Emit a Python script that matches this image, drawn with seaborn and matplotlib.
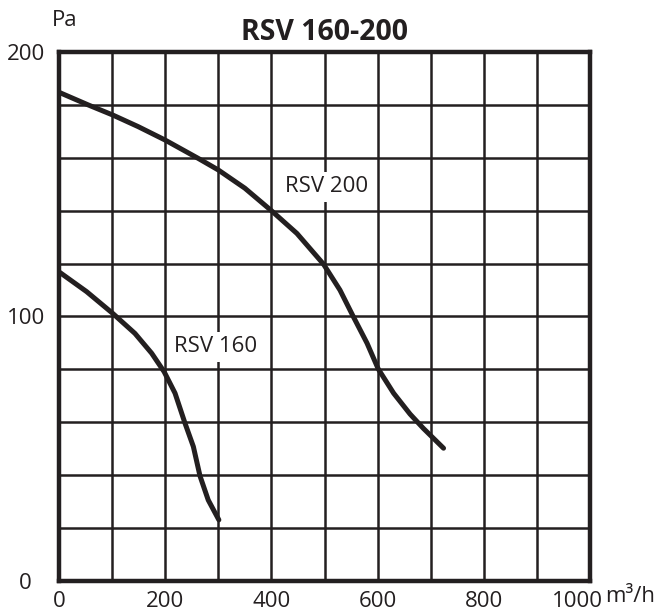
import numpy as np
import pandas as pd
import seaborn as sns
import matplotlib.pyplot as plt
from matplotlib.transforms import ScaledTranslation

# fan curves (airflow m3/h, pressure Pa)
rsv200_q = [2, 55, 101, 149, 200, 262, 300, 350, 400, 448, 498, 529, 554, 580, 601, 630, 661, 686, 724]
rsv200_p = [184.6, 180, 176.2, 171.8, 166.7, 159.8, 155.4, 148.5, 140, 131.4, 119.8, 110, 100, 89.9, 80.2, 71, 63.1, 57.7, 50.2]
rsv160_q = [2, 52, 101, 143, 174.5, 198, 218.5, 237, 253, 265.5, 281, 301]
rsv160_p = [116.6, 109.4, 101.2, 93.6, 86.1, 79.1, 71, 59.8, 50.8, 39.7, 30.6, 23.1]

x_ticks = list(range(0, 1001, 100))
x_labels = ["0", "", "200", "", "400", "", "600", "", "800", "", "1000"]
y_ticks = list(range(0, 201, 20))
y_labels = ["0", "", "", "", "", "100", "", "", "", "", "200"]

df = pd.concat([
    pd.DataFrame({"q": rsv200_q, "p": rsv200_p, "model": "RSV 200"}),
    pd.DataFrame({"q": rsv160_q, "p": rsv160_p, "model": "RSV 160"}),
])

sns.set_style("white")
plt.rcParams["font.family"] = ["Open Sans", "DejaVu Sans"]
ink = "#231f20"

fig = plt.figure(figsize=(6.59, 6.12), dpi=100)
ax = fig.add_axes([0.0895, 0.0507, 0.806, 0.8643])

sns.lineplot(data=df, x="q", y="p", units="model", estimator=None, sort=False,
             color=ink, linewidth=3.6, ax=ax, legend=False, zorder=3)

ax.set_xlim(0, 1000)
ax.set_ylim(0, 200)
ax.set_xticks(x_ticks)
ax.set_xticklabels(x_labels)
ax.set_yticks(y_ticks)
ax.set_yticklabels(y_labels, ha="center")
ax.tick_params(length=0, labelsize=16, colors=ink)
ax.tick_params(axis="x", pad=7)
ax.tick_params(axis="y", pad=24)
ax.grid(True, color=ink, linewidth=1.8)
for s in ax.spines.values():
    s.set_linewidth(3.2)
    s.set_color(ink)
ax.set_xlabel("")
ax.set_ylabel("")

# the "1000" label sits a little left of its tick
last = ax.get_xticklabels()[-1]
last.set_transform(last.get_transform() + ScaledTranslation(-9 / 72, 0, fig.dpi_scale_trans))

box = dict(boxstyle="square,pad=0.2", facecolor="white", edgecolor="none")
ax.text(504, 149, "RSV 200", ha="center", va="center", fontsize=16,
        color=ink, bbox=box, zorder=4)
ax.text(295, 88.6, "RSV 160", ha="center", va="center", fontsize=16,
        color=ink, bbox=box, zorder=4)

ax.set_title("RSV 160-200", fontsize=20.5, fontweight="bold", color=ink, pad=9)
fig.text(65 / 659, 1 - 20 / 612, "Pa", ha="center", va="center", fontsize=16, color=ink)
fig.text(605 / 659, 1 - 596 / 612, "m³/h", ha="left", va="center", fontsize=16, color=ink)

fig.savefig("out.png", dpi=100)
